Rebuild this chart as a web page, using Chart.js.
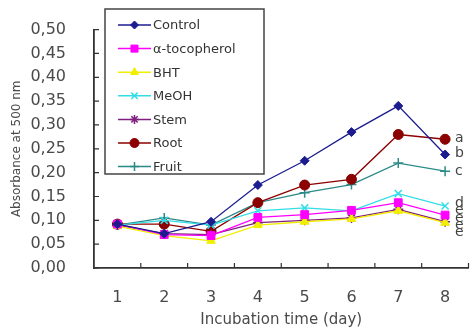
<!DOCTYPE html>
<html>
<head>
<meta charset="utf-8">
<script src="https://cdn.jsdelivr.net/npm/chart.js@4"></script>
<style>
  html, body { margin: 0; padding: 0; background: #fff; }
  #wrap { width: 475px; height: 331px; }
</style>
</head>
<body>
<div id="wrap"><canvas id="chart" width="475" height="331"></canvas></div>
<script>
// Data
const days = ['1', '2', '3', '4', '5', '6', '7', '8'];
const yTicks = [0, 0.05, 0.10, 0.15, 0.20, 0.25, 0.30, 0.35, 0.40, 0.45, 0.50];

const control    = [0.092, 0.072, 0.097, 0.174, 0.225, 0.285, 0.340, 0.238];
const tocopherol = [0.092, 0.070, 0.068, 0.106, 0.112, 0.121, 0.137, 0.111];
const bht        = [0.088, 0.068, 0.057, 0.090, 0.097, 0.103, 0.120, 0.095];
const meoh       = [0.090, 0.100, 0.090, 0.120, 0.126, 0.120, 0.156, 0.130];
const stem       = [0.090, 0.072, 0.070, 0.095, 0.100, 0.105, 0.123, 0.097];
const root       = [0.092, 0.092, 0.077, 0.137, 0.174, 0.186, 0.280, 0.270];
const fruit      = [0.090, 0.105, 0.090, 0.137, 0.158, 0.175, 0.220, 0.203];

// significance letters at the right end
const sigLetters = ['a', 'b', 'c', 'd', 'e', 'e', 'e', 'e'];
const sigValues  = [0.272, 0.240, 0.203, 0.136, 0.120, 0.105, 0.090, 0.075];

const fontFam = "'DejaVu Sans', Arial, sans-serif";

function series(label, data, color, style, radius) {
    return {
        label: label,
        data: data,
        borderColor: color,
        backgroundColor: color,
        borderWidth: 1.3,
        pointStyle: style,
        pointRadius: radius,
        pointHoverRadius: radius,
        pointBorderWidth: (style === 'cross' || style === 'crossRot' || style === 'star') ? 1.5 : 1,
        tension: 0
    };
}

// Legend drawn as a box that sits over the top-left of the plot
const boxLegend = {
    id: 'boxLegend',
    afterDraw(chart) {
        const ctx = chart.ctx;
        const x0 = 105, y0 = 9, w = 159, h = 165;
        ctx.save();
        ctx.fillStyle = '#fff';
        ctx.fillRect(x0, y0, w, h);
        ctx.strokeStyle = '#444';
        ctx.lineWidth = 1.5;
        ctx.strokeRect(x0, y0, w, h);
        ctx.font = '13px ' + fontFam;
        ctx.textBaseline = 'middle';
        chart.data.datasets.forEach((ds, i) => {
            const y = y0 + 16 + i * 23.6;
            ctx.strokeStyle = ds.borderColor;
            ctx.lineWidth = 1.5;
            ctx.beginPath();
            ctx.moveTo(118, y);
            ctx.lineTo(151, y);
            ctx.stroke();
            ctx.fillStyle = ds.backgroundColor;
            ctx.strokeStyle = ds.borderColor;
            ctx.lineWidth = ds.pointBorderWidth;
            Chart.helpers.drawPoint(ctx, {
                pointStyle: ds.pointStyle,
                radius: ds.pointRadius - 0.5,
                rotation: 0,
                borderWidth: ds.pointBorderWidth
            }, 134.5, y);
            ctx.fillStyle = '#333';
            ctx.fillText(ds.label, 153, y + 1);
        });
        ctx.restore();
    }
};

// Inward tick marks and the letters beside day 8
const extras = {
    id: 'extras',
    afterDraw(chart) {
        const ctx = chart.ctx;
        const xs = chart.scales.x, ys = chart.scales.y;
        const area = chart.chartArea;
        ctx.save();
        ctx.strokeStyle = '#333';
        ctx.lineWidth = 1.2;
        ctx.beginPath();
        for (let i = 1; i <= days.length; i++) {
            const px = i < days.length
                ? (xs.getPixelForValue(i - 1) + xs.getPixelForValue(i)) / 2
                : area.right;
            ctx.moveTo(px, area.bottom);
            ctx.lineTo(px, area.bottom - 5);
        }
        yTicks.forEach(v => {
            const py = ys.getPixelForValue(v);
            ctx.moveTo(area.left, py);
            ctx.lineTo(area.left + 5, py);
        });
        ctx.stroke();

        ctx.fillStyle = '#444';
        ctx.font = '14px ' + fontFam;
        ctx.textBaseline = 'middle';
        const lx = xs.getPixelForValue(days.length - 1) + 10;
        sigLetters.forEach((t, i) => {
            ctx.fillText(t, lx, ys.getPixelForValue(sigValues[i]));
        });
        ctx.restore();
    }
};

const chart = new Chart(document.getElementById('chart'), {
    type: 'line',
    data: {
        labels: days,
        datasets: [
            series('Control', control, '#1c1c8f', 'rectRot', 4.5),
            series('\u03b1-tocopherol', tocopherol, '#ff00ff', 'rect', 5.5),
            series('BHT', bht, '#f2ee00', 'triangle', 5),
            series('MeOH', meoh, '#33dde8', 'crossRot', 5),
            series('Stem', stem, '#7f1f7f', 'star', 5),
            series('Root', root, '#8b0000', 'circle', 5),
            series('Fruit', fruit, '#2a8a88', 'cross', 5)
        ]
    },
    options: {
        responsive: false,
        devicePixelRatio: 1,
        animation: false,
        layout: { padding: { top: 29, right: 1, left: 0, bottom: 0 } },
        plugins: {
            legend: { display: false },
            tooltip: { enabled: false }
        },
        scales: {
            x: {
                type: 'category',
                offset: true,
                grid: { display: false },
                border: { display: true, color: '#333', width: 1.8 },
                ticks: {
                    color: '#4a4a4a',
                    padding: 12,
                    font: { family: fontFam, size: 16 }
                },
                title: {
                    display: true,
                    text: 'Incubation time (day)',
                    color: '#4a4a4a',
                    font: { family: fontFam, size: 15 },
                    padding: { top: 0, bottom: 2 }
                },
                afterFit(scale) { scale.height = 63; }
            },
            y: {
                min: 0,
                max: 0.5,
                afterBuildTicks(scale) {
                    scale.ticks = yTicks.map(v => ({ value: v }));
                },
                grid: { display: false },
                border: { display: true, color: '#333', width: 1.8 },
                ticks: {
                    color: '#4a4a4a',
                    padding: 20,
                    font: { family: fontFam, size: 16 },
                    callback: v => v.toFixed(2).replace('.', ',')
                },
                title: {
                    display: true,
                    text: 'Absorbance at 500 nm',
                    color: '#4a4a4a',
                    font: { family: fontFam, size: 12 },
                    padding: { top: 10, bottom: 0 }
                },
                afterFit(scale) { scale.width = 94; }
            }
        }
    },
    plugins: [boxLegend, extras]
});
</script>
</body>
</html>
